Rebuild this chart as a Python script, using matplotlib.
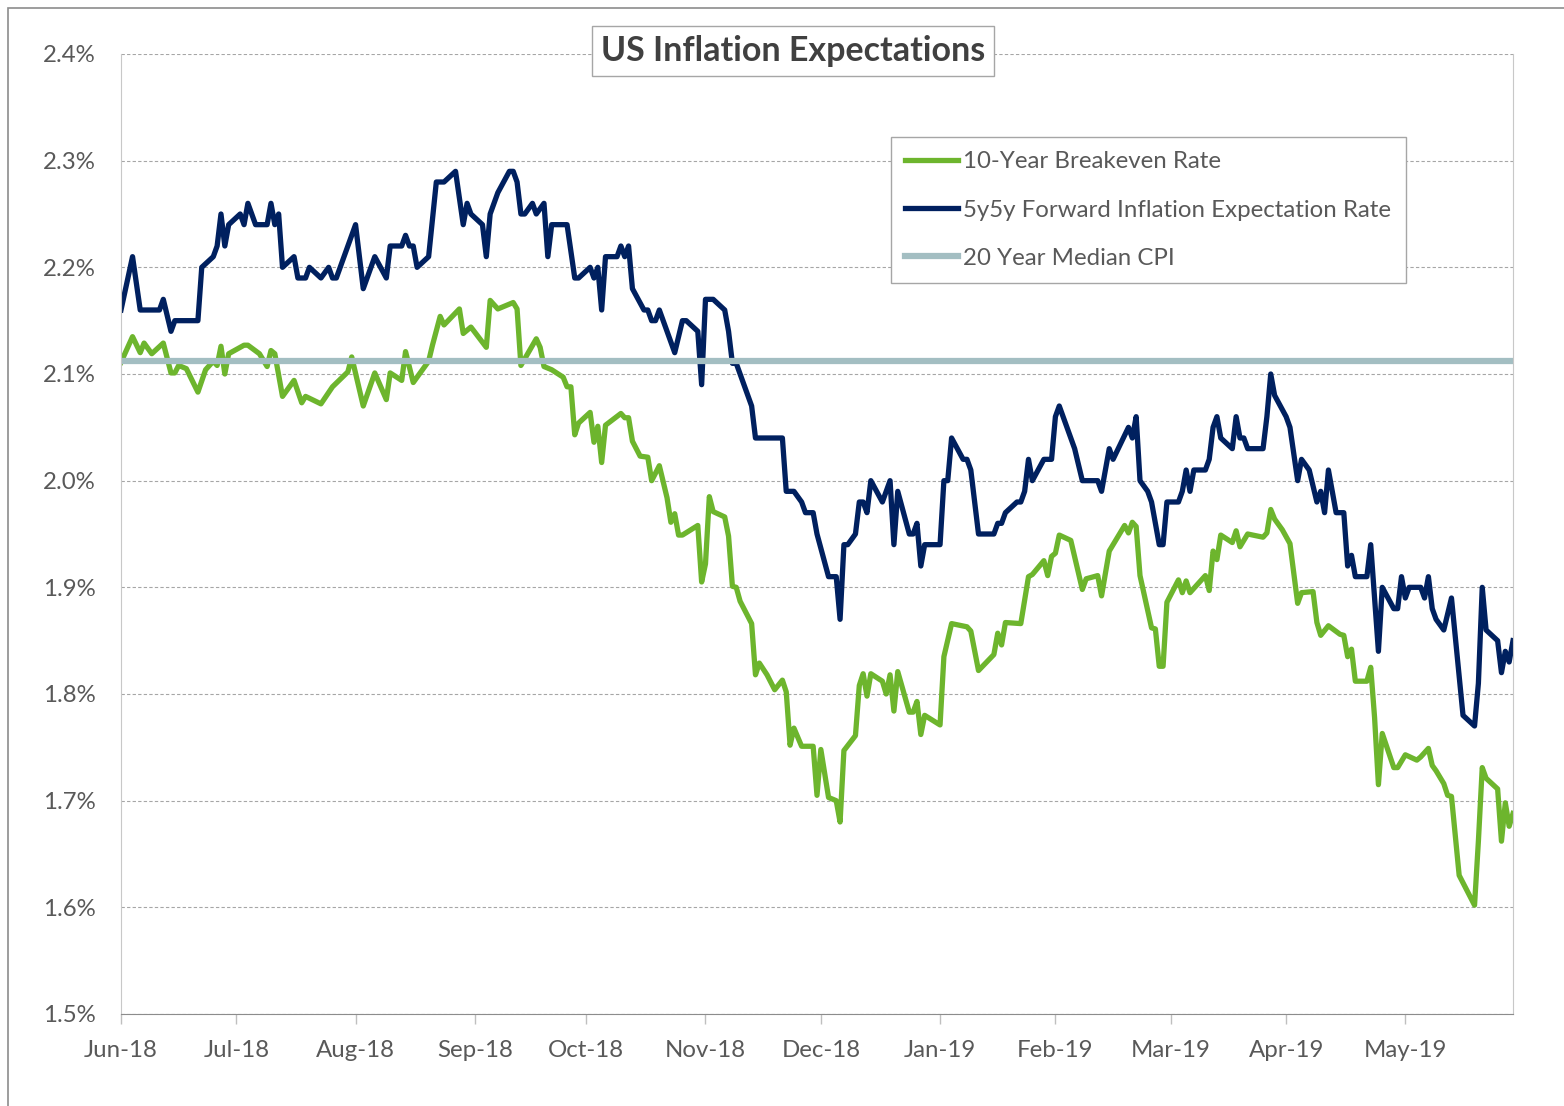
import matplotlib
matplotlib.use("Agg")
import matplotlib.pyplot as plt
from matplotlib.patches import Rectangle
import pandas as pd

plt.rcParams['font.family'] = ['Lato', 'DejaVu Sans']

# Fecha base del eje (los datos se leen como dias desde esta fecha)
inicio = pd.Timestamp("2018-06-01")

# 10-Year Breakeven Rate (%)
be_dias = [0, 3, 5, 6, 8, 11, 13, 14, 15, 17, 20, 22, 24, 25, 26, 27, 28, 32, 33, 36,
           38, 39, 40, 42, 45, 47, 48, 52, 55, 59, 60, 63, 66, 69, 70, 73, 74, 76, 80, 81,
           83, 84, 88, 89, 91, 95, 96, 98, 102, 103, 104, 108, 109, 110, 112, 115, 116, 117, 118, 119,
           122, 123, 124, 125, 126, 130, 131, 132, 133, 135, 137, 138, 140, 142, 143, 144, 145, 146, 150, 151,
           152, 153, 154, 157, 158, 159, 160, 161, 164, 165, 166, 168, 170, 172, 173, 174, 175, 177, 180, 181,
           182, 184, 186, 187, 188, 191, 192, 193, 194, 195, 198, 199, 200, 201, 202, 205, 206, 207, 208, 209,
           213, 214, 216, 220, 221, 223, 227, 228, 229, 230, 234, 236, 237, 240, 241, 242, 243, 244, 247, 250,
           251, 254, 255, 257, 261, 262, 263, 264, 265, 268, 269, 270, 271, 272, 275, 276, 277, 278, 282, 283,
           284, 285, 286, 289, 290, 291, 293, 297, 298, 299, 300, 302, 304, 306, 307, 310, 311, 312, 314, 317,
           318, 319, 320, 321, 324, 325, 326, 327, 328, 331, 332, 334, 337, 338, 340, 341, 342, 344, 345, 346,
           348, 352, 353, 354, 355, 358, 359, 360, 361, 362]
be_vals = [2.111, 2.135, 2.12, 2.129, 2.119, 2.129, 2.101, 2.101, 2.108, 2.105, 2.083, 2.104, 2.112, 2.108, 2.126, 2.10, 2.119, 2.127, 2.127, 2.119,
           2.107, 2.122, 2.119, 2.079, 2.094, 2.073, 2.079, 2.072, 2.088, 2.102, 2.116, 2.07, 2.101, 2.076, 2.101, 2.094, 2.121, 2.092, 2.112, 2.127,
           2.154, 2.146, 2.161, 2.138, 2.144, 2.125, 2.169, 2.161, 2.167, 2.161, 2.108, 2.133, 2.125, 2.107, 2.104, 2.097, 2.088, 2.088, 2.043, 2.054,
           2.064, 2.036, 2.051, 2.017, 2.052, 2.063, 2.059, 2.059, 2.037, 2.023, 2.022, 2.0, 2.014, 1.984, 1.961, 1.969, 1.949, 1.949, 1.958, 1.905,
           1.922, 1.985, 1.971, 1.966, 1.948, 1.901, 1.90, 1.887, 1.866, 1.818, 1.829, 1.818, 1.804, 1.813, 1.802, 1.752, 1.768, 1.751, 1.751, 1.705,
           1.748, 1.703, 1.70, 1.68, 1.747, 1.761, 1.808, 1.819, 1.798, 1.819, 1.812, 1.80, 1.818, 1.784, 1.821, 1.783, 1.783, 1.793, 1.762, 1.78,
           1.771, 1.835, 1.866, 1.863, 1.859, 1.822, 1.837, 1.857, 1.846, 1.867, 1.866, 1.91, 1.912, 1.925, 1.911, 1.929, 1.932, 1.949, 1.944, 1.898,
           1.908, 1.911, 1.892, 1.934, 1.958, 1.951, 1.961, 1.957, 1.911, 1.862, 1.861, 1.826, 1.826, 1.886, 1.907, 1.895, 1.906, 1.895, 1.911, 1.897,
           1.934, 1.926, 1.949, 1.942, 1.953, 1.938, 1.95, 1.947, 1.951, 1.973, 1.964, 1.954, 1.941, 1.885, 1.895, 1.896, 1.867, 1.855, 1.864, 1.856,
           1.855, 1.835, 1.842, 1.812, 1.812, 1.825, 1.778, 1.715, 1.763, 1.731, 1.731, 1.743, 1.738, 1.741, 1.749, 1.733, 1.728, 1.716, 1.705, 1.704,
           1.63, 1.602, 1.662, 1.731, 1.721, 1.711, 1.662, 1.698, 1.676, 1.688]

# 5y5y Forward Inflation Expectation Rate (%)
fw_dias = [0, 3, 5, 10, 11, 13, 14, 20, 21, 24, 25, 26, 27, 28, 31, 32, 33, 35, 38, 39,
           40, 41, 42, 45, 46, 48, 49, 52, 54, 55, 56, 61, 63, 66, 69, 70, 73, 74, 75, 76,
           77, 80, 82, 84, 87, 89, 90, 91, 94, 95, 96, 98, 101, 102, 103, 104, 105, 107, 108, 110,
           111, 112, 116, 118, 119, 122, 123, 124, 125, 126, 129, 130, 131, 132, 133, 136, 137, 138, 139, 140,
           144, 146, 147, 150, 151, 152, 154, 157, 158, 159, 160, 164, 165, 172, 173, 175, 177, 178, 180, 181,
           184, 186, 187, 188, 189, 191, 192, 193, 194, 195, 198, 200, 201, 202, 205, 206, 207, 208, 209, 213,
           214, 215, 216, 219, 220, 221, 223, 227, 228, 229, 230, 233, 234, 235, 236, 237, 240, 242, 243, 244,
           248, 250, 254, 255, 257, 258, 262, 263, 264, 265, 267, 268, 270, 271, 272, 275, 276, 277, 278, 279,
           282, 283, 284, 285, 286, 289, 290, 291, 292, 293, 297, 298, 299, 300, 303, 304, 306, 307, 309, 311,
           312, 313, 314, 316, 318, 319, 320, 321, 324, 325, 327, 328, 331, 332, 333, 334, 335, 338, 339, 340,
           341, 342, 344, 346, 349, 352, 353, 354, 355, 358, 359, 360, 361, 362]
fw_vals = [2.16, 2.21, 2.16, 2.16, 2.17, 2.14, 2.15, 2.15, 2.20, 2.21, 2.22, 2.25, 2.22, 2.24, 2.25, 2.24, 2.26, 2.24, 2.24, 2.26,
           2.24, 2.25, 2.20, 2.21, 2.19, 2.19, 2.20, 2.19, 2.20, 2.19, 2.19, 2.24, 2.18, 2.21, 2.19, 2.22, 2.22, 2.23, 2.22, 2.22,
           2.20, 2.21, 2.28, 2.28, 2.29, 2.24, 2.26, 2.25, 2.24, 2.21, 2.25, 2.27, 2.29, 2.29, 2.28, 2.25, 2.25, 2.26, 2.25, 2.26,
           2.21, 2.24, 2.24, 2.19, 2.19, 2.20, 2.19, 2.20, 2.16, 2.21, 2.21, 2.22, 2.21, 2.22, 2.18, 2.16, 2.16, 2.15, 2.15, 2.16,
           2.12, 2.15, 2.15, 2.14, 2.09, 2.17, 2.17, 2.16, 2.14, 2.11, 2.11, 2.07, 2.04, 2.04, 1.99, 1.99, 1.98, 1.97, 1.97, 1.95,
           1.91, 1.91, 1.87, 1.94, 1.94, 1.95, 1.98, 1.98, 1.97, 2.00, 1.98, 2.00, 1.94, 1.99, 1.95, 1.95, 1.96, 1.92, 1.94, 1.94,
           2.00, 2.00, 2.04, 2.02, 2.02, 2.01, 1.95, 1.95, 1.96, 1.96, 1.97, 1.98, 1.98, 1.99, 2.02, 2.00, 2.02, 2.02, 2.06, 2.07,
           2.03, 2.00, 2.00, 1.99, 2.03, 2.02, 2.05, 2.04, 2.06, 2.00, 1.99, 1.98, 1.94, 1.94, 1.98, 1.98, 1.99, 2.01, 1.99, 2.01,
           2.01, 2.02, 2.05, 2.06, 2.04, 2.03, 2.06, 2.04, 2.04, 2.03, 2.03, 2.06, 2.10, 2.08, 2.06, 2.05, 2.00, 2.02, 2.01, 1.98,
           1.99, 1.97, 2.01, 1.97, 1.97, 1.92, 1.93, 1.91, 1.91, 1.94, 1.84, 1.90, 1.88, 1.88, 1.91, 1.89, 1.90, 1.90, 1.89, 1.91,
           1.88, 1.87, 1.86, 1.89, 1.78, 1.77, 1.81, 1.90, 1.86, 1.85, 1.82, 1.84, 1.83, 1.85]

# 20 Year Median CPI (%)
cpi_mediana = 2.112

yticks = [1.5, 1.6, 1.7, 1.8, 1.9, 2.0, 2.1, 2.2, 2.3, 2.4]
# marcas del eje x (dias desde el inicio, como aparecen en el grafico)
meses_dias = [0, 30, 61, 92, 121, 152, 182, 213, 243, 273, 303, 334]
meses_txt = ["Jun-18", "Jul-18", "Aug-18", "Sep-18", "Oct-18", "Nov-18",
             "Dec-18", "Jan-19", "Feb-19", "Mar-19", "Apr-19", "May-19"]

verde = "#6DB52D"
azul = "#00205F"
gris_cpi = "#A3BEC2"
gris_txt = "#595959"

be_fechas = inicio + pd.to_timedelta(be_dias, unit="D")
fw_fechas = inicio + pd.to_timedelta(fw_dias, unit="D")
meses = inicio + pd.to_timedelta(meses_dias, unit="D")

fig = plt.figure(figsize=(15.64, 11.06), dpi=100)
ax = fig.add_axes([121 / 1564, 1 - 1014 / 1106, (1513 - 121) / 1564, (1014 - 54) / 1106])

ax.plot(be_fechas, be_vals, color=verde, lw=3.8, solid_joinstyle="round", label="10-Year Breakeven Rate")
ax.plot(fw_fechas, fw_vals, color=azul, lw=3.8, solid_joinstyle="round", label="5y5y Forward Inflation Expectation Rate")
ax.axhline(cpi_mediana, color=gris_cpi, lw=4.5, label="20 Year Median CPI")

ax.set_ylim(1.5, 2.4)
ax.set_xlim(be_fechas[0], be_fechas[-1])
ax.set_yticks(yticks)
ax.set_yticklabels(["%.1f%%" % v for v in yticks])
ax.set_xticks(meses)
ax.set_xticklabels(meses_txt)

ax.grid(axis="y", color="#A6A6A6", lw=0.8, linestyle=(0, (3, 2)))
ax.set_axisbelow(True)
ax.tick_params(axis="y", length=0, pad=18, labelsize=17.3, labelcolor=gris_txt)
ax.tick_params(axis="x", length=7, width=1, color="#BFBFBF", pad=12, labelsize=17.3, labelcolor=gris_txt)

for lado in ["left", "right"]:
    ax.spines[lado].set_color("#C8C8C8")
ax.spines["top"].set_visible(False)
ax.spines["bottom"].set_color("#8C8C8C")

leg = ax.legend(loc="upper left", bbox_to_anchor=(891 / 1564, 1 - 137 / 1106),
                bbox_transform=fig.transFigure, fontsize=17.3, frameon=True, fancybox=False,
                edgecolor="#A6A6A6", framealpha=1, handlelength=2.2, handletextpad=0.2,
                labelspacing=1.13, borderpad=0.6, borderaxespad=0)
for t in leg.get_texts():
    t.set_color(gris_txt)
leg.get_frame().set_linewidth(1.0)

fig.text(793 / 1564, 1 - 51 / 1106, "US Inflation Expectations", ha="center", va="center",
         fontsize=24.5, fontweight="bold", color="#404040",
         bbox=dict(boxstyle="square,pad=0.25", fc="white", ec="#A6A6A6", lw=1))

fig.add_artist(Rectangle((8 / 1564, -0.05), 1.1, 1 - 8 / 1106 + 0.05, transform=fig.transFigure,
                         fill=False, ec="#8C8C8C", lw=1.2))

fig.savefig("out.png", dpi=100)
